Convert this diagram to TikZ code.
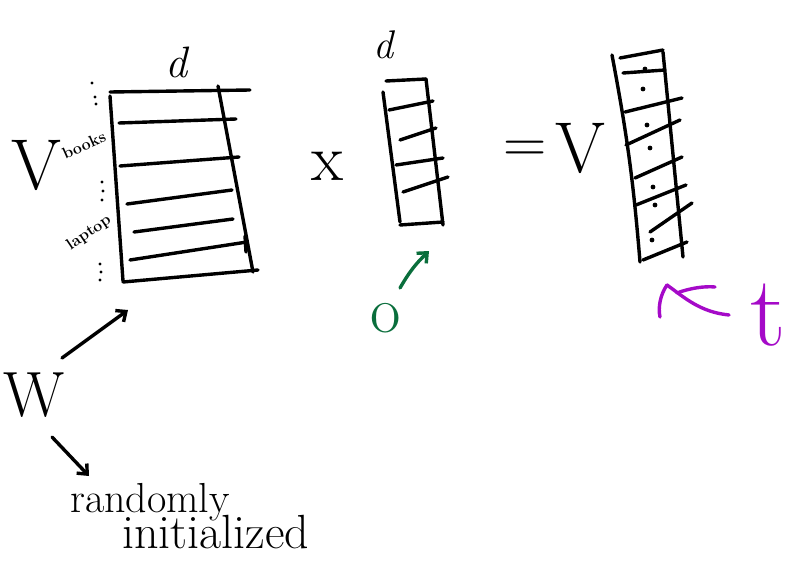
\documentclass[tikz,border=0pt]{standalone}
\usetikzlibrary{arrows.meta}
\definecolor{pgreen}{RGB}{10,110,60}
\definecolor{ppurple}{RGB}{165,10,200}
\tikzset{
  ink/.style={line width=3.4pt,line cap=round,line join=round},
  arr/.style={ink,-{Straight Barb[length=8pt,width=14pt,line width=3.4pt]}},
  big/.style={inner sep=0pt,font=\fontsize{#1}{#1}\selectfont},
  tiny/.style={inner sep=0pt,font=\bfseries\fontsize{16}{16}\selectfont},
}
\begin{document}
\begin{tikzpicture}[x=1pt,y=-1pt]
\useasboundingbox (0,0) rectangle (793,565);
% left matrix
\draw[ink] (110,92) -- (250,90);
\draw[ink] (110,96) -- (123,281);
\draw[ink] (218,86) -- (253,272);
\draw[ink] (123,282) -- (258,270);
\draw[ink] (119,123) -- (236,119);
\draw[ink] (120,166) -- (239,157);
\draw[ink] (127,204) -- (232,190);
\draw[ink] (134,232) -- (233,219);
\draw[ink] (130,260) -- (247,242);
\draw[ink] (245,236) -- (246,252);
\coordinate (Wm) at (128,310);
% labels left
\node[big=44,font=\itshape\fontsize{44}{44}\selectfont] (d1) at (176,62) {d};
\node[big=72] (V1) at (36,165) {V};
\node[tiny,rotate=24] (books) at (84,145) {books};
\node[tiny,rotate=34] (laptop) at (89,233) {laptop};
\foreach \p in {(92,83),(95,97),(96,104),(102,182),(103,191),(102,200),(100,264),(101,272),(100,280)}
  \fill \p circle (1.6pt);
% times
\node[big=66] (x) at (328,166) {x};
% middle vector
\node[big=40,font=\itshape\fontsize{40}{40}\selectfont] (d2) at (383,45) {d};
\draw[ink] (386,81) -- (426,79);
\draw[ink] (383,92) -- (400,222);
\draw[ink] (426,79) -- (443,225);
\draw[ink] (400,225) -- (443,222);
\draw[ink] (389,110) -- (433,101);
\draw[ink] (400,140) -- (436,128);
\draw[ink] (396,165) -- (443,158);
\draw[ink] (403,192) -- (448,177);
\coordinate (om) at (429,251);
\node[text=pgreen,big=66] (o) at (386,318) {o};
\draw[arr,pgreen] (400,288) to[bend left=8] (om);
% equals V
\node[big=60] (eq) at (525,152) {=};
\node[big=72] (V2) at (580,148) {V};
% right vector
\draw[ink] (620,58) -- (663,50);
\draw[ink] (612,55) to[bend left=3] (640,262);
\draw[ink] (663,52) -- (683,257);
\draw[ink] (643,260) -- (687,242);
\draw[ink] (623,73) -- (665,70);
\draw[ink] (625,112) -- (682,98);
\draw[ink] (626,145) -- (680,120);
\draw[ink] (635,178) -- (682,157);
\draw[ink] (636,205) -- (686,185);
\draw[ink] (650,232) -- (692,203);
\foreach \p in {(645,69),(643,89),(647,125),(650,148),(653,187),(655,205),(652,240)}
  \fill \p circle (2.4pt);
\coordinate (vm) at (667,285);
\node[text=ppurple,big=100] (t) at (768,315) {t};
\draw[ink,ppurple] (729,315) .. controls (700,312) and (685,298) .. (vm);
\draw[ink,ppurple] (vm) .. controls (660,295) and (658,308) .. (660,317);
\draw[ink,ppurple] (677,293) .. controls (690,288) and (705,286) .. (715,287);
% W and annotation
\node[big=64] (W) at (34,395) {W};
\draw[arr] (62,358) -- (Wm);
\node[big=42,anchor=base west] (rand) at (70,512) {randomly};
\node[big=48,anchor=base west] (init) at (122,548) {initialized};
\coordinate (rt) at (89,476);
\draw[arr] (52,437) -- (rt);
\end{tikzpicture}
\end{document}
